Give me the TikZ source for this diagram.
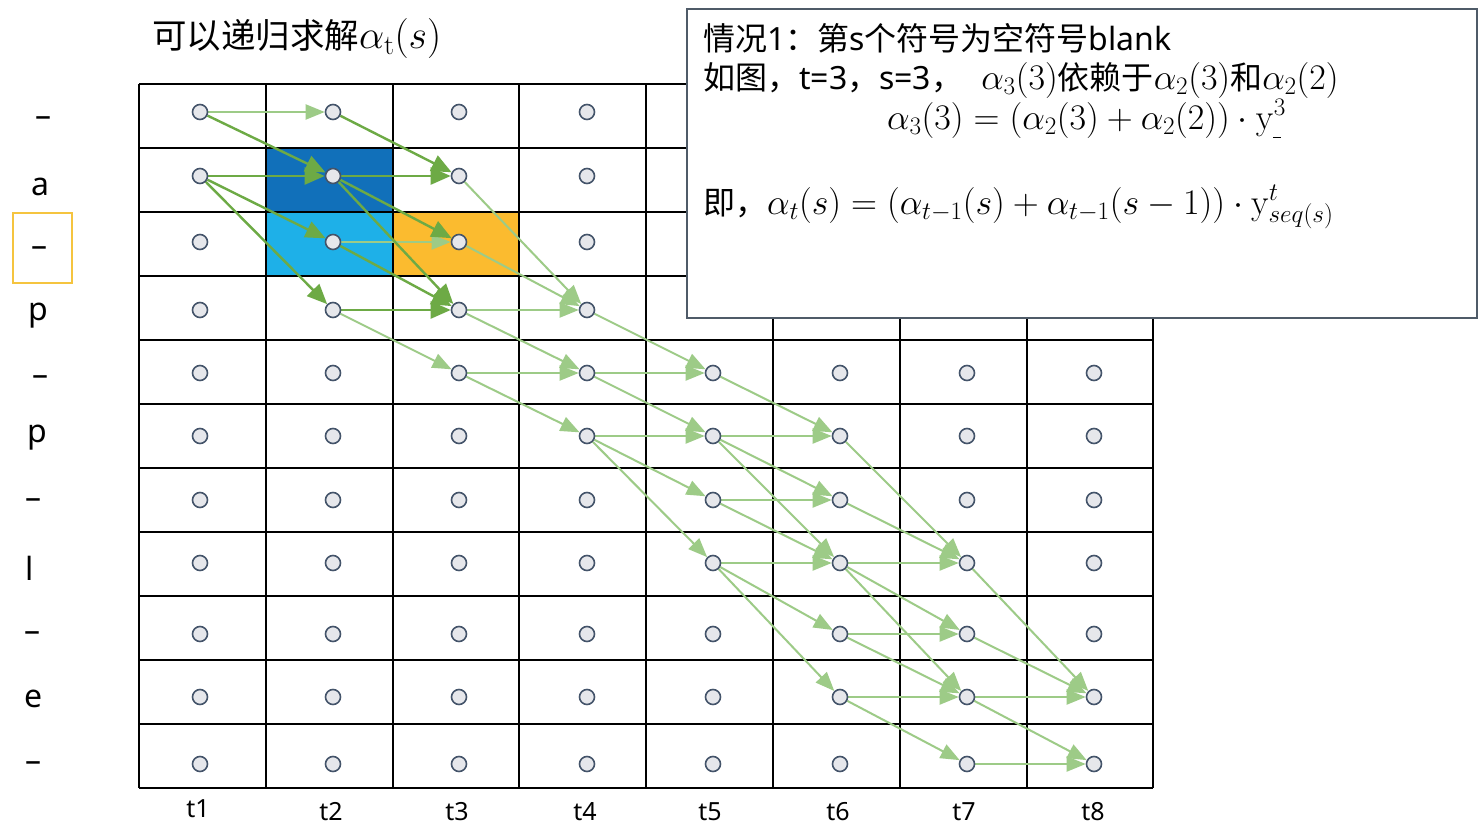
\RequirePackage{fix-cm}
\documentclass[tikz,border=0pt]{standalone}
\usepackage[no-math]{fontspec}
\setmainfont{Noto Sans}
\newfontfamily\cjk{Noto Sans CJK SC}
\usetikzlibrary{arrows.meta}
\definecolor{cdark}{HTML}{1170BA}
\definecolor{clight}{HTML}{1EB0E8}
\definecolor{corange}{HTML}{FBBB2F}
\definecolor{gdark}{HTML}{6DAA45}
\definecolor{glight}{HTML}{9DCB87}
\definecolor{dotfill}{HTML}{E6E7EB}
\definecolor{dotline}{HTML}{44546A}
\definecolor{boxline}{HTML}{4F5B68}
\definecolor{hlyellow}{HTML}{F5C43F}
\pgfdeclarelayer{bg}
\pgfdeclarelayer{arr}
\pgfdeclarelayer{fg}
\pgfsetlayers{bg,arr,main,fg}
\newcommand{\bigmath}[1]{{\fontsize{36}{40}\selectfont$#1$}}
\tikzset{
  dot/.style={circle, inner sep=0pt, minimum size=15pt, fill=dotfill, draw=dotline, line width=1.6pt},
  dk/.style={draw=gdark, line width=2.4pt, -{Triangle[length=20pt,width=17pt]}},
  lt/.style={draw=glight, line width=2pt, -{Triangle[length=19pt,width=15pt]}},
  gridline/.style={line width=1.8pt, black},
  lab/.style={font=\fontsize{32}{40}\selectfont, inner sep=0pt},
  tlab/.style={font=\fontsize{25}{30}\selectfont, inner sep=0pt},
  txt/.style={anchor=base west, inner sep=0pt, font=\fontsize{32}{38}\selectfont}
}
\begin{document}
\begin{tikzpicture}[x=1pt,y=-1pt]
\useasboundingbox (0,0) rectangle (1484,830);
\begin{pgfonlayer}{bg}
\fill[white] (0,0) rectangle (1484,830);
\fill[cdark] (266,148) rectangle (393,212);
\fill[clight] (266,212) rectangle (393,276);
\fill[corange] (393,212) rectangle (519,276);
\foreach \x in {139,266,393,519,646,773,900,1027,1153}
  \draw[gridline] (\x,84) -- (\x,788);
\foreach \y in {84,148,212,276,340,404,468,532,596,660,724,788}
  \draw[gridline] (139,\y) -- (1153,\y);
\end{pgfonlayer}
% dots
\foreach \t/\x in {1/200,2/333,3/459,4/587,5/713,6/840,7/967,8/1094}
  \foreach \s/\y in {1/112,2/176,3/242,4/310,5/373,6/436,7/500,8/563,9/634,10/697,11/764}
    \node[dot] (c-\t-\s) at (\x,\y) {};
% arrows
\begin{pgfonlayer}{arr}
\foreach \a/\b in {1-1/2-1,2-3/3-3,2-4/3-5,3-2/4-4,3-3/4-4,3-4/4-4,3-4/4-5,3-5/4-5,3-5/4-6,
  4-4/5-5,4-5/5-5,4-5/5-6,4-6/5-6,4-6/5-7,4-6/5-8,
  5-5/6-6,5-6/6-6,5-6/6-7,5-6/6-8,5-7/6-7,5-7/6-8,5-8/6-8,5-8/6-9,5-8/6-10,
  6-6/7-8,6-7/7-8,6-8/7-8,6-8/7-9,6-8/7-10,6-9/7-9,6-9/7-10,6-10/7-10,6-10/7-11,
  7-8/8-10,7-9/8-10,7-10/8-10,7-10/8-11,7-11/8-11}
  \draw[lt] (c-\a) -- (c-\b);
\foreach \a/\b in {1-1/2-2,1-2/2-2,1-2/2-3,1-2/2-4,2-1/3-2,2-2/3-2,2-2/3-3,2-2/3-4,2-3/3-4,2-4/3-4}
  \draw[dk] (c-\a) -- (c-\b);
\end{pgfonlayer}
% row labels
\node[lab] (l1) at (43,122) {–};
\node[lab] (l2) at (40,187) {a};
\node[lab] (l3) at (39,252) {–};
\node[draw=hlyellow, line width=2pt, minimum width=59pt, minimum height=70pt, inner sep=0pt] (hl) at (42.5,248) {};
\node[lab] (l4) at (38,316) {p};
\node[lab] (l5) at (40,381) {–};
\node[lab] (l6) at (37,438) {p};
\node[lab] (l7) at (33,504) {–};
\node[lab] (l8) at (30,568) {l};
\node[lab] (l9) at (32,637) {–};
\node[lab] (l10) at (34,699) {e};
\node[lab] (l11) at (33,767) {–};
% column labels
\foreach \i/\x/\y in {1/198/809,2/331/812,3/457/812,4/585/812,5/710/812,6/838/812,7/964/812,8/1093/812}
  \node[tlab] (t\i) at (\x,\y) {t\i};
% title
\node[anchor=base west, inner sep=0pt, font=\fontsize{34.5}{40}\selectfont] (title) at (152,48) {{\cjk 可以递归求解}{\fontsize{40}{44}\selectfont$\alpha_{\mathrm{t}}(s)$}};
% formula box
\begin{pgfonlayer}{fg}
\node[draw=boxline, fill=white, line width=1.5pt, minimum width=790pt, minimum height=309pt, inner sep=0pt, anchor=north west] (formula) at (686,8) {};
\node[txt] (f1) at (703,50) {{\cjk 情况}1{\cjk ：第}s{\cjk 个符号为空符号}blank};
\node[txt] (f2) at (703,89) {{\cjk 如图，}t=3{\cjk ，}s=3{\cjk ，}\hspace{18pt}\bigmath{\alpha_3(3)}{\cjk 依赖于}\bigmath{\alpha_2(3)}{\cjk 和}\bigmath{\alpha_2(2)}};
\node[txt] (f3) at (887,129) {\bigmath{\alpha_3(3)=\big(\alpha_2(3)+\alpha_2(2)\big)\cdot\mathrm{y}^{3}_{\rule{8pt}{1.3pt}}}};
\node[txt] (f4) at (703,214) {{\cjk 即，}\bigmath{\alpha_t(s)=\big(\alpha_{t-1}(s)+\alpha_{t-1}(s-1)\big)\cdot\mathrm{y}^{t}_{seq(s)}}};
\end{pgfonlayer}
\end{tikzpicture}
\end{document}
